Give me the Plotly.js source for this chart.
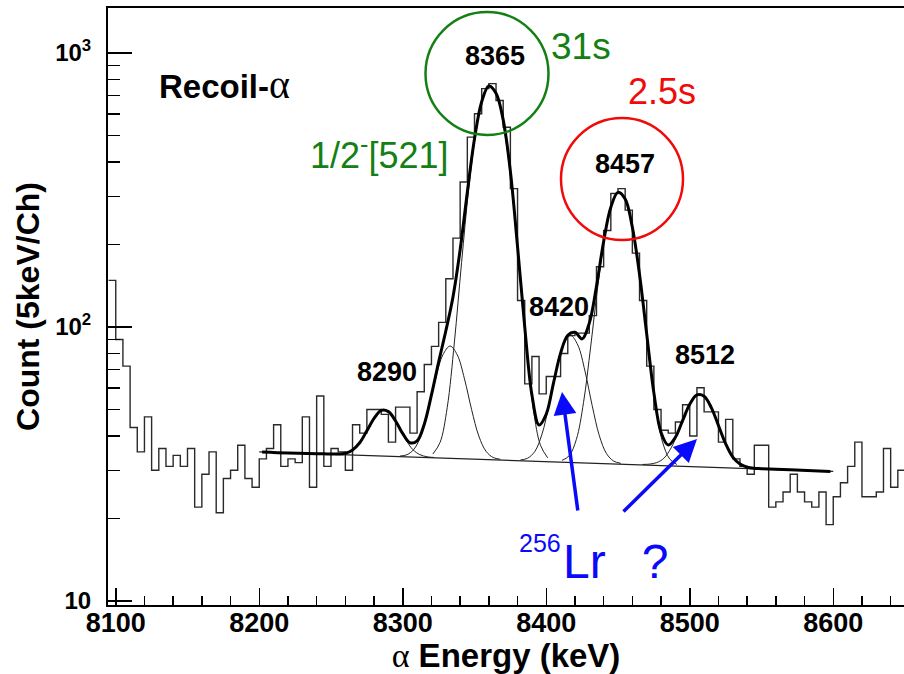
<!DOCTYPE html>
<html><head><meta charset="utf-8">
<script src="https://cdn.plot.ly/plotly-3.0.1.min.js"></script>
<style>html,body{margin:0;padding:0;background:#fff}#chart{width:904px;height:674px}</style>
</head><body><div id="chart"></div>
<script>
// Histogram: counts per 5 keV channel, first channel starts at 8095 keV
const binLow = 8095, binWidth = 5;
const counts = [148,90,72,43,35,47,30,36,31,34,
  31,36,22,29,35,21,28,30,37,28,
  26,33,36,44,31,33,32,47,26,56,
  31,36,35,30,44,41,50,50,48,38,
  51,51,41,58,73,85,104,150,211,338,
  493,600,741,773,671,536,320,125,62,78,
  57,66,66,80,93,95,95,110,166,225,
  307,320,267,186,125,72,50,42,41,45,
  52,40,60,49,49,38,46,33,31,29,
  37,37,22,23,25,29,25,23,22,25,
  19,24,27,31,38,24,24,25,36,26,
  30];

// Total fit (thick line)
const fitE = [8202,8220,8240,8250,8255,8260,8265,8270,8275,8280,8285,8290,8295,8300,8305,8310,8315,8320,8325,8330,8335,8340,8345,8350,8355,8360,8365,8370,8375,8380,8385,8390,8395,8400,8405,8410,8415,8420,8425,8430,8435,8440,8445,8450,8455,8460,8465,8470,8475,8480,8485,8490,8495,8500,8505,8510,8515,8520,8525,8530,8535,8540,8545,8550,8570,8598];
const fitN = [35.0,34.7,34.5,34.4,34.4,34.6,35.6,37.8,41.8,46.4,49.6,49.1,45.4,40.8,37.8,38.4,44.2,56.5,74.5,96.7,128.7,191.5,310.7,486.2,664.2,758.2,713.6,570,370,196.4,100.2,56.6,43.9,48.1,62.3,80.3,93.3,95.6,90.5,103.3,140.8,205.3,273.5,309.9,292.9,231.2,155.6,94.3,57.5,41.2,37.1,39.6,45.5,52.2,56.5,55.9,50.8,43.7,37.5,33.5,31.6,30.8,30.5,30.4,30.1,29.7];

// Fit components (thin lines)
const compA_E = [8252,8257,8262,8267,8272,8277,8282,8287,8292,8297,8302,8307,8312,8317,8322];
const compA_N = [34.4,34.4,34.9,36.3,39.3,43.7,48.0,49.9,47.9,43.4,38.9,35.7,34.2,33.6,33.4];
const compB_E = [8298,8303,8308,8313,8318,8323,8328,8333,8338,8343,8348,8353,8358,8363,8368];
const compB_N = [33.8,34.2,35.9,40.5,50.3,65.0,79.2,85.2,79.1,64.7,49.9,40.0,35.2,33.4,32.9];
const compC_E = [8321,8326,8331,8336,8341,8346,8351,8356,8361,8366,8371,8376,8381,8386,8391,8396,8401];
const compC_N = [34.4,37.9,50.9,88.2,172.0,320.3,513.5,688.7,759.9,688.6,513.2,319.9,171.5,87.5,50.1,37.0,33.3];
const compD_E = [8382,8387,8392,8397,8402,8407,8412,8417,8422,8427,8432,8437,8442,8447,8452];
const compD_N = [32.7,33.2,35.1,40.6,52.1,69.3,86.0,93.1,85.9,69.0,51.7,40.1,34.5,32.4,31.8];
const compE_E = [8411,8416,8421,8426,8431,8436,8441,8446,8451,8456,8461,8466,8471,8476,8481,8486,8491];
const compE_N = [32.6,33.9,38.9,53.1,85.2,142.1,216.2,283.4,310.7,283.3,215.9,141.7,84.7,52.4,38.1,33.0,31.5];
const compF_E = [8467,8472,8477,8482,8487,8492,8497,8502,8507,8512,8517,8522,8527,8532,8537,8542,8547];
const compF_N = [31.5,31.6,32.0,33.2,36.2,41.4,48.3,54.5,56.9,54.3,48.0,41.0,35.6,32.6,31.2,30.6,30.4];

// Linear background
const bgE = [8200, 8600];
const bgN = [35.0, 29.7];

// Tick labels
const yTickVals = [10, 100, 1000];
const yTickText = ['10', '10<sup>2</sup>', '10<sup>3</sup>'];
const yMinorVals = [20,30,40,50,60,70,80,90,200,300,400,500,600,700,800,900];
const peakLabels = ['8290', '8365', '8420', '8457', '8512'];

// ---- layout geometry ----
const W = 904, H = 674, ML = 108, MR = 0, MT = 8, MB = 69;
const px = x => (x - ML) / (W - ML - MR);
const py = y => (H - MB - y) / (H - MT - MB);

const histX = counts.map((c, i) => binLow + i * binWidth).concat([binLow + counts.length * binWidth]);
const histY = counts.concat([counts[counts.length - 1]]);

const thin = {color: '#222', width: 1};
const traces = [
  {x: histX, y: histY, mode: 'lines', line: {shape: 'hv', color: '#2a2a2a', width: 1.4}, hoverinfo: 'skip'},
  {x: bgE, y: bgN, mode: 'lines', line: {color: '#222', width: 1.2}},
  {x: compA_E, y: compA_N, mode: 'lines', line: Object.assign({shape: 'spline'}, thin)},
  {x: compB_E, y: compB_N, mode: 'lines', line: Object.assign({shape: 'spline'}, thin)},
  {x: compC_E, y: compC_N, mode: 'lines', line: Object.assign({shape: 'spline'}, thin)},
  {x: compD_E, y: compD_N, mode: 'lines', line: Object.assign({shape: 'spline'}, thin)},
  {x: compE_E, y: compE_N, mode: 'lines', line: Object.assign({shape: 'spline'}, thin)},
  {x: compF_E, y: compF_N, mode: 'lines', line: Object.assign({shape: 'spline'}, thin)},
  {x: fitE, y: fitN, mode: 'lines', line: {shape: 'spline', color: '#000', width: 3}}
];

const GREEN = 'rgb(20,128,20)', RED = 'rgb(240,10,10)', BLUE = 'rgb(10,10,250)';
const boldF = s => ({family: 'Liberation Sans, Arial, sans-serif', size: s, color: '#000', weight: 'bold'});
const regF = (s, c) => ({family: 'Liberation Sans, Arial, sans-serif', size: s, color: c});
const alpha = sz => '<span style="font-family:Liberation Serif;font-weight:normal;font-size:' + sz + 'px">α</span>';

const peakPos = {'8290': [387, 372], '8365': [495, 56], '8420': [559, 307], '8457': [625, 164], '8512': [705, 355]};
const ann = peakLabels.map(t => ({
  text: t, xref: 'paper', yref: 'paper', x: px(peakPos[t][0]), y: py(peakPos[t][1]),
  xanchor: 'center', yanchor: 'middle', showarrow: false, font: boldF(27)
}));
ann.push(
  {text: 'Recoil-' + alpha(40), xref: 'paper', yref: 'paper',
   x: px(157), y: py(84), xanchor: 'left', yanchor: 'middle', showarrow: false, font: boldF(33)},
  {text: '31s', xref: 'paper', yref: 'paper', x: px(581), y: py(47), xanchor: 'center', yanchor: 'middle', showarrow: false, font: regF(37, GREEN)},
  {text: '2.5s', xref: 'paper', yref: 'paper', x: px(662), y: py(91), xanchor: 'center', yanchor: 'middle', showarrow: false, font: regF(36, RED)},
  {text: '1/2<sup>-</sup>[521]', xref: 'paper', yref: 'paper', x: px(379), y: py(153), xanchor: 'center', yanchor: 'middle', showarrow: false, font: regF(36, GREEN)},
  {text: '256', xref: 'paper', yref: 'paper', x: px(540), y: py(543), xanchor: 'center', yanchor: 'middle', showarrow: false, font: regF(25, BLUE)},
  {text: 'Lr\u2002\u2005?', xref: 'paper', yref: 'paper', x: px(561), y: py(561), xanchor: 'left', yanchor: 'middle', showarrow: false, font: regF(48, BLUE)},
  {text: '', xref: 'paper', yref: 'paper', x: px(562), y: py(392), showarrow: true, ax: 16, ay: 120,
   arrowcolor: BLUE, arrowwidth: 3.5, arrowhead: 2, arrowsize: 1.3, standoff: 0},
  {text: '', xref: 'paper', yref: 'paper', x: px(697), y: py(439), showarrow: true, ax: -75, ay: 74,
   arrowcolor: BLUE, arrowwidth: 3.5, arrowhead: 2, arrowsize: 1.3, standoff: 0}
);

const shapes = [
  {type: 'circle', xref: 'paper', yref: 'paper', x0: px(425.5), x1: px(548.5), y0: py(135), y1: py(12), line: {color: GREEN, width: 2.5}},
  {type: 'circle', xref: 'paper', yref: 'paper', x0: px(561), x1: px(683), y0: py(240), y1: py(118), line: {color: RED, width: 2.5}}
];

const layout = {
  width: W, height: H,
  margin: {l: ML, r: MR, t: MT, b: MB, pad: 0},
  paper_bgcolor: '#fff', plot_bgcolor: '#fff',
  showlegend: false,
  xaxis: {
    range: [8094.6, 8649.3], tick0: 8100, dtick: 100,
    ticks: 'inside', ticklen: 17, tickwidth: 1.5, tickcolor: '#000',
    minor: {dtick: 20, tick0: 8100, ticks: 'inside', ticklen: 9, tickwidth: 1.5, tickcolor: '#000'},
    showline: true, linecolor: '#000', linewidth: 2, mirror: true,
    showgrid: false, zeroline: false,
    tickfont: boldF(27), ticklabelstandoff: -7,
    title: {text: alpha(34) + ' Energy (keV)', font: boldF(33), standoff: 4},
    automargin: false
  },
  yaxis: {
    type: 'log', range: [0.9854, 3.1642],
    tickmode: 'array', tickvals: yTickVals, ticktext: yTickText,
    ticks: 'inside', ticklen: 24, tickwidth: 1.5, tickcolor: '#000',
    minor: {tickmode: 'array', tickvals: yMinorVals, ticks: 'inside', ticklen: 12, tickwidth: 1.5, tickcolor: '#000'},
    showline: true, linecolor: '#000', linewidth: 2, mirror: false,
    showgrid: false, zeroline: false,
    tickfont: boldF(24), ticklabelstandoff: 10,
    title: {text: 'Count (5keV/Ch)', font: boldF(32), standoff: 6},
    automargin: false
  },
  annotations: ann,
  shapes: shapes
};

Plotly.newPlot('chart', traces, layout, {displayModeBar: false, staticPlot: true});
</script>
</body></html>
